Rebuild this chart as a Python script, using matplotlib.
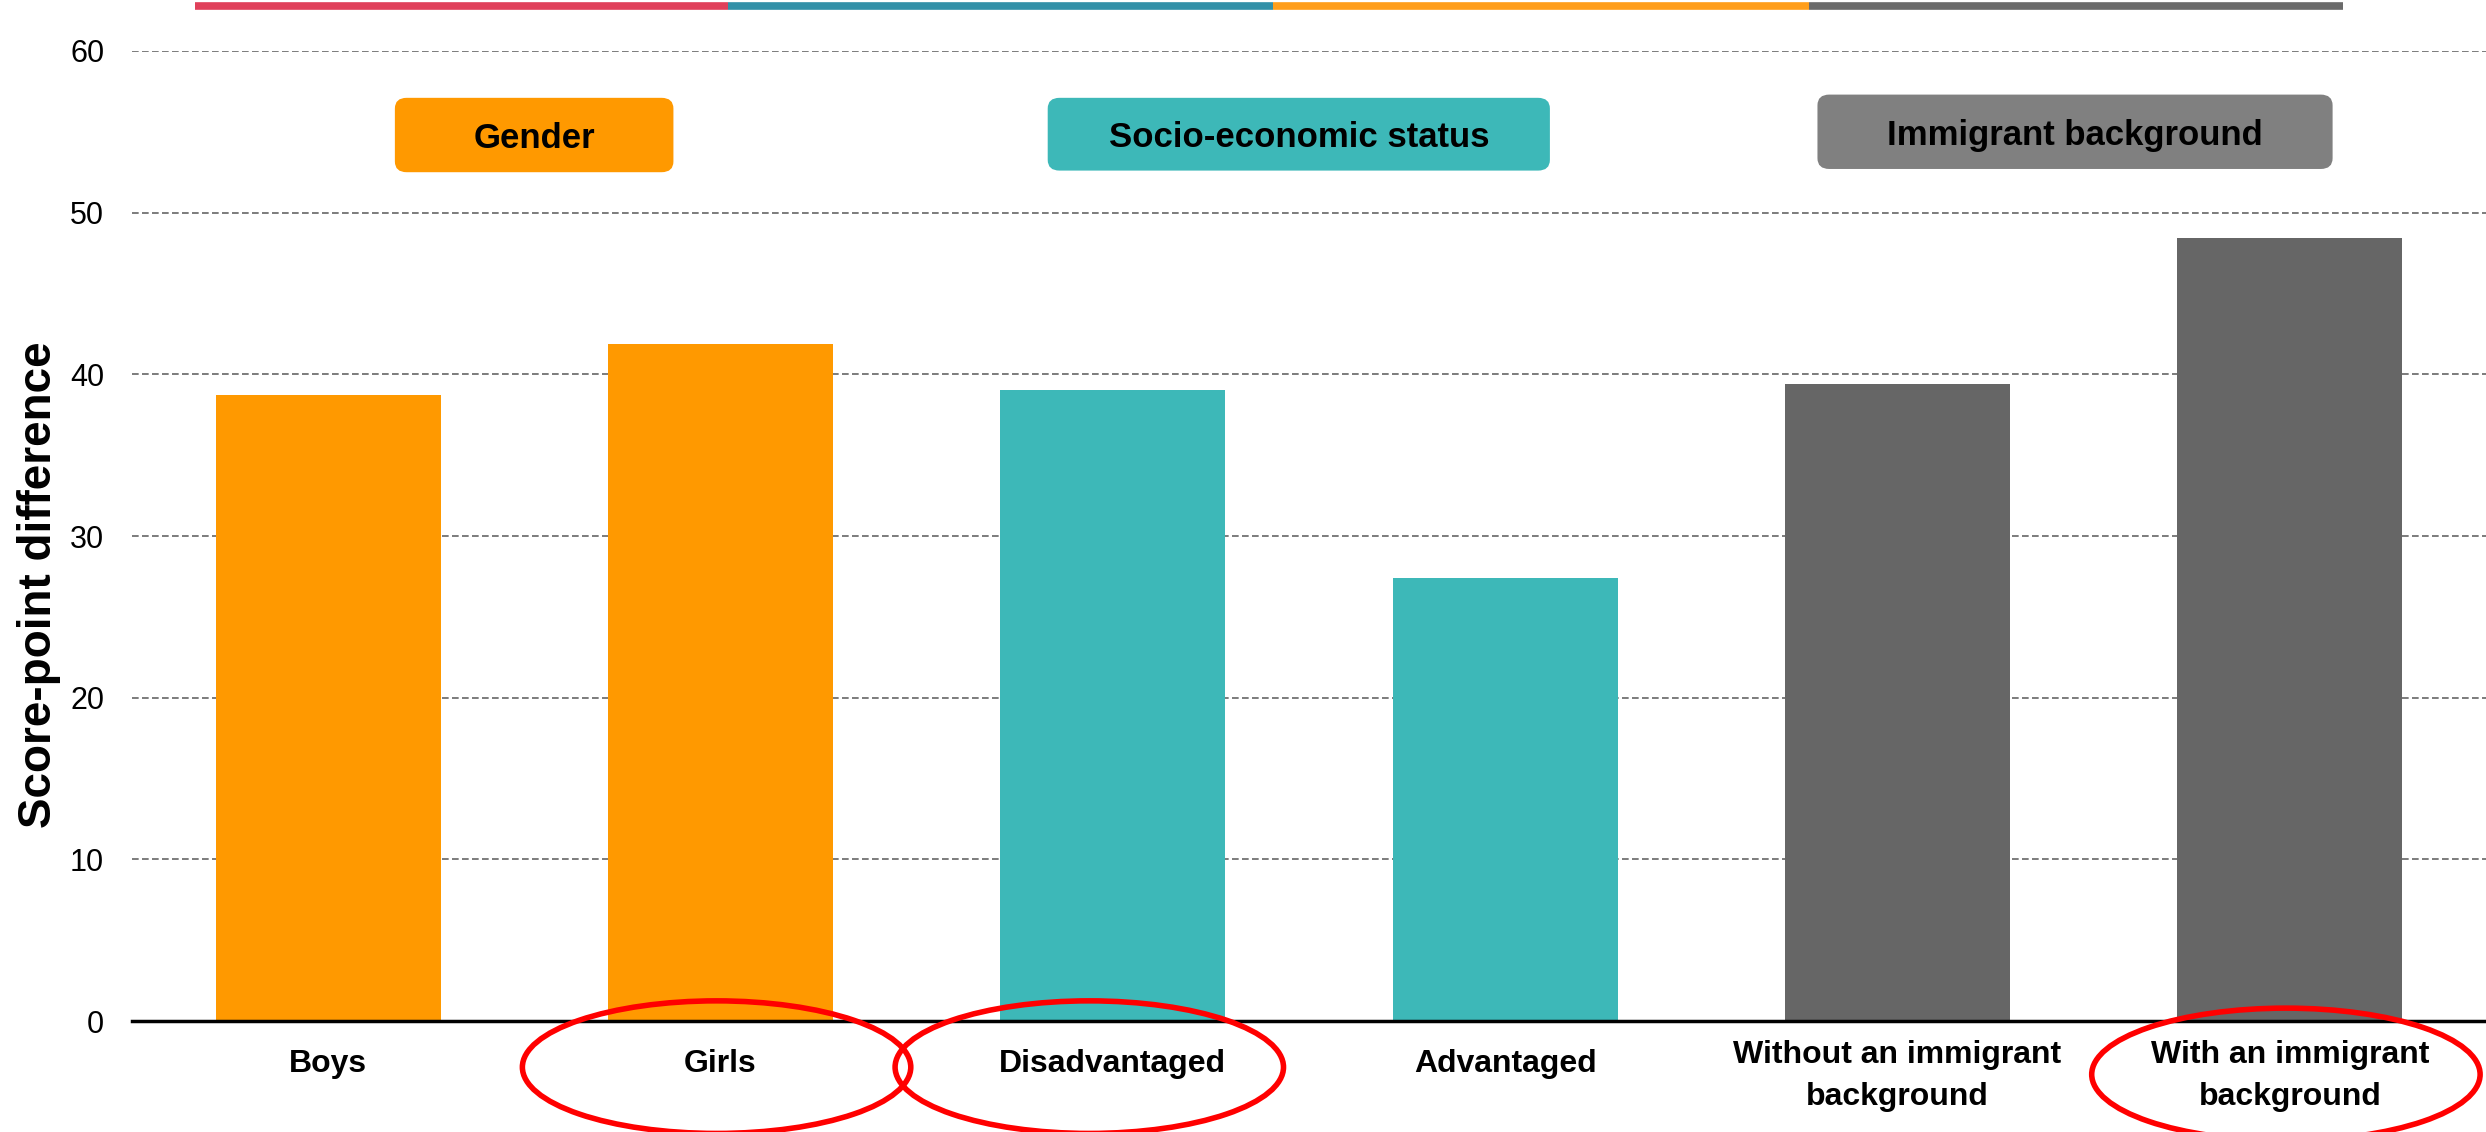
import matplotlib
matplotlib.use("Agg")
import matplotlib.pyplot as plt
from matplotlib.patches import FancyBboxPatch, Ellipse
from matplotlib.lines import Line2D

# data
categories = ["Boys", "Girls", "Disadvantaged", "Advantaged",
              "Without an immigrant\nbackground", "With an immigrant\nbackground"]
values = [38.7, 41.9, 39.0, 27.4, 39.4, 48.4]
bar_colors = ["#FF9900", "#FF9900", "#3DB8B8", "#3DB8B8", "#666666", "#666666"]

groups = ["Gender", "Socio-economic status", "Immigrant background"]
group_colors = ["#FF9900", "#3DB8B8", "#808080"]
# box extents (x in category units, y in score units)
group_boxes = [(0.17, 0.88, 52.5, 57.1), (1.834, 3.114, 52.6, 57.1), (3.796, 5.109, 52.7, 57.3)]

# categories that are circled in the original
circled = [1, 2, 5]

font = ["Liberation Sans", "DejaVu Sans"]
plt.rcParams["font.family"] = font

fig = plt.figure(figsize=(24.86, 11.32), dpi=100)
ax = fig.add_axes([0.0531, 0.098, 0.9469, 0.857])

x = list(range(len(categories)))
ax.bar(x, values, width=0.574, color=bar_colors, zorder=2)

ax.set_xlim(-0.5, 5.5)
ax.set_ylim(0, 60)
ax.set_yticks(range(0, 61, 10))
ax.grid(axis="y", color="#666666", linestyle=(0, (4, 2)), linewidth=1.2, zorder=0)
for s in ["top", "right", "left"]:
    ax.spines[s].set_visible(False)
ax.spines["bottom"].set_linewidth(2.5)
ax.spines["bottom"].set_zorder(3)
ax.tick_params(axis="both", length=0)
ax.tick_params(axis="y", labelsize=22, pad=20)

# category labels (single-line ones sit a bit lower than the first line of two-line ones)
ax.set_xticks(x)
ax.set_xticklabels([])
for i, lab in enumerate(categories):
    yy = -0.0565 if "\n" in lab else -0.044
    ax.text(i, yy, lab, transform=ax.get_xaxis_transform(), ha="center", va="center",
            fontsize=23, fontweight="bold", linespacing=1.55)

ax.set_ylabel("Score-point difference", fontsize=33, fontweight="bold")
ax.yaxis.set_label_coords(-0.03, 0.45)

# group label boxes
for name, col, (x0, x1, y0, y1) in zip(groups, group_colors, group_boxes):
    box = FancyBboxPatch((x0, y0), x1 - x0, y1 - y0,
                         boxstyle="round,pad=0,rounding_size=0.03",
                         mutation_aspect=22, facecolor=col, edgecolor="none",
                         zorder=3)
    ax.add_patch(box)
    ax.text((x0 + x1) / 2, (y0 + y1) / 2 - 0.2, name, ha="center", va="center",
            fontsize=25, fontweight="bold", zorder=4)

# red circles around highlighted labels
for i in circled:
    yc = -3.3 if i == 5 else -2.85
    xc = i - 0.06 if i == 2 else i - 0.01
    e = Ellipse((xc, yc), 0.99, 8.2, facecolor="none", edgecolor="#FF0000",
                linewidth=4, clip_on=False, zorder=5)
    ax.add_patch(e)

# decorative coloured strip at the top
strip = [(0.0784, 0.2928, "#E0405A"), (0.2928, 0.5121, "#3290A8"),
         (0.5121, 0.7277, "#FF9E1B"), (0.7277, 0.9425, "#6B6B6B")]
for xa, xb, c in strip:
    fig.add_artist(Line2D([xa, xb], [0.9950, 0.9950], color=c, linewidth=5.5,
                          solid_capstyle="butt"))

fig.savefig("out.png", dpi=100)
